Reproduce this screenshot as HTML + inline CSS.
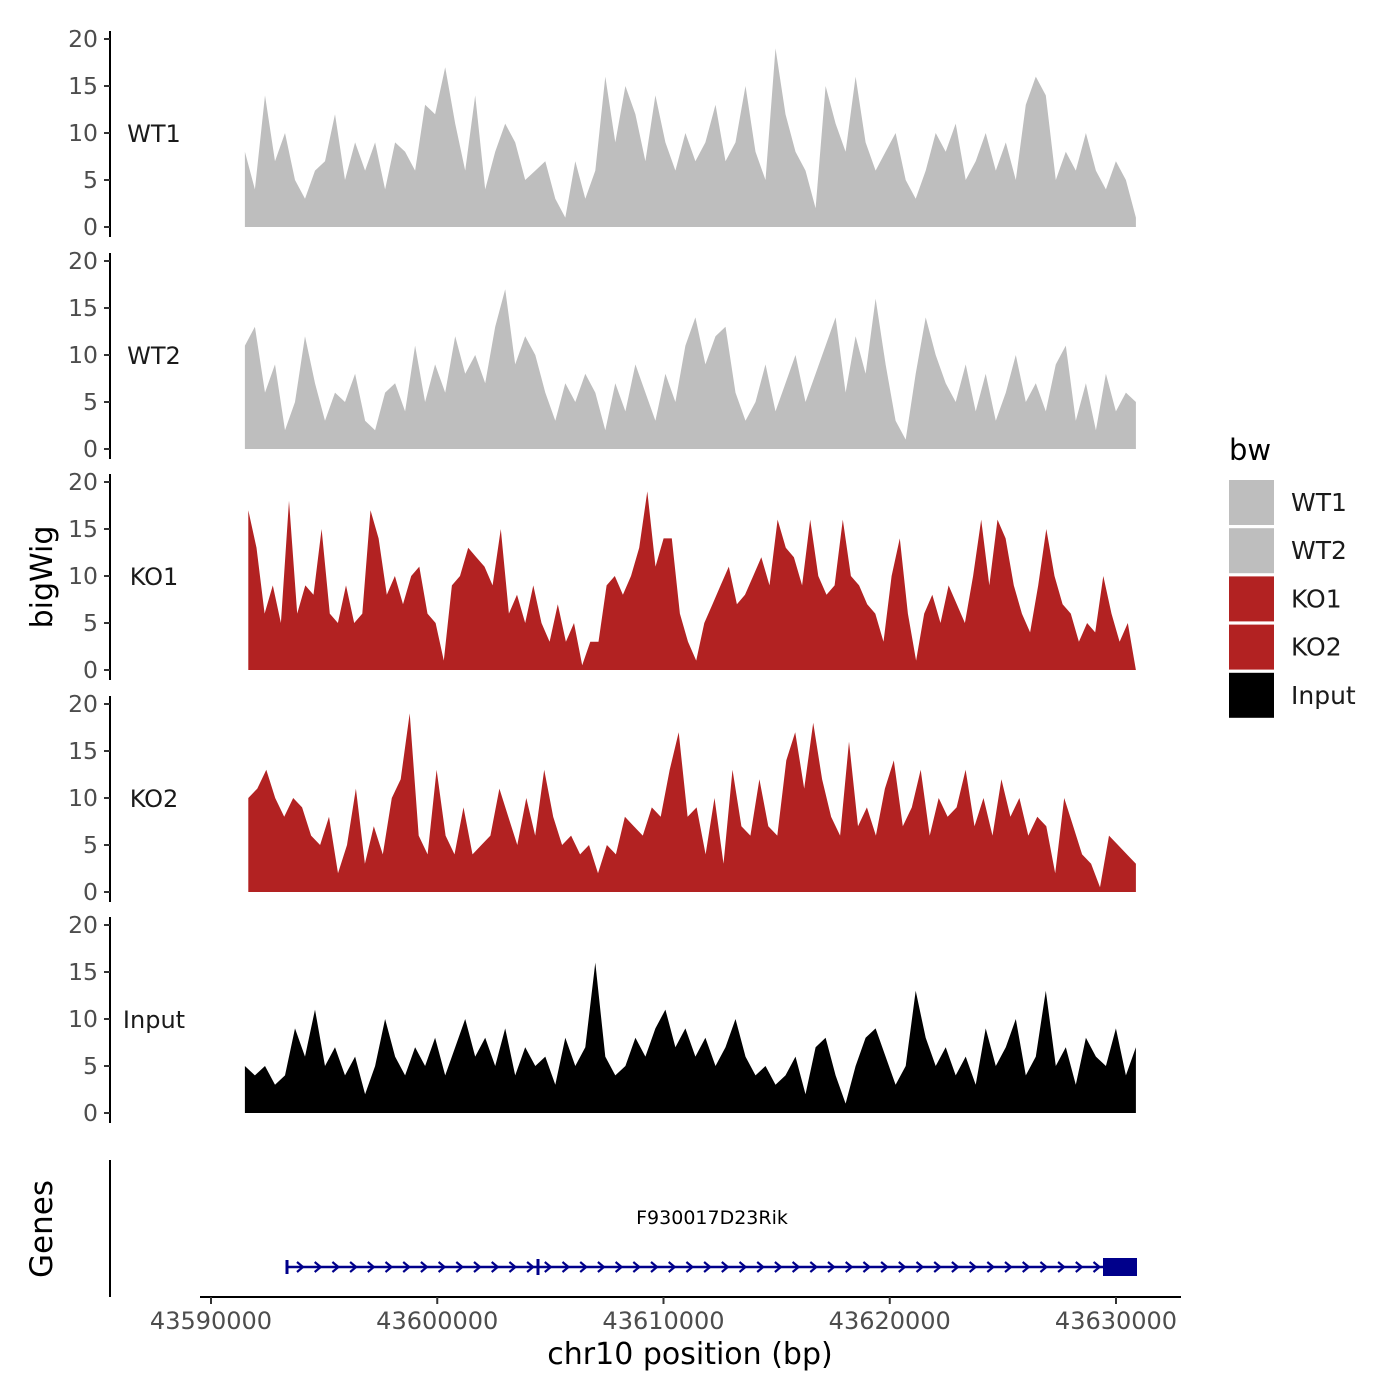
<!DOCTYPE html>
<html><head><meta charset="utf-8"><style>
html,body{margin:0;padding:0;background:#fff;}
svg{display:block;font-family:"DejaVu Sans","Liberation Sans",sans-serif;}
</style></head><body>
<svg id="chart" width="1400" height="1400" viewBox="0 0 1400 1400">
<g id="panels"></g>
<g id="genes">
  <line x1="110" y1="1160" x2="110" y2="1297" stroke="#000" stroke-width="2"/>
  <text x="52" y="1229" font-size="31" transform="rotate(-90 52 1229)" text-anchor="middle">Genes</text>
  <text x="712" y="1224" font-size="19" text-anchor="middle">F930017D23Rik</text>
  <g id="genemodel"></g>
</g>
<g id="xaxis">
  <line x1="200" y1="1297" x2="1181" y2="1297" stroke="#000" stroke-width="2"/>
  <text x="690" y="1364" font-size="30" text-anchor="middle">chr10 position (bp)</text>
</g>
<text x="52" y="577" font-size="30" transform="rotate(-90 52 577)" text-anchor="middle">bigWig</text>
<g id="legend">
  <text x="1229" y="460" font-size="29">bw</text>
</g>
</svg>
<script>
const samples = ["WT1","WT2","KO1","KO2","Input"];
const colors = ["#bebebe","#bebebe","#b22222","#b22222","#000000"];
const startBp = [43591500,43591500,43591650,43591650,43591500];
const endBp = 43630880;
const yTicks = [0,5,10,15,20];
const xTicks = [43590000,43600000,43610000,43620000,43630000];
const wt1 = [8,4,14,7,10,5,3,6,7,12,5,9,6,9,4,9,8,6,13,12,17,11,6,14,4,8,11,9,5,6,7,3,1,7,3,6,16,9,15,12,7,14,9,6,10,7,9,13,7,9,15,8,5,19,12,8,6,2,15,11,8,16,9,6,8,10,5,3,6,10,8,11,5,7,10,6,9,5,13,16,14,5,8,6,10,6,4,7,5,1];
const wt2 = [11,13,6,9,2,5,12,7,3,6,5,8,3,2,6,7,4,11,5,9,6,12,8,10,7,13,17,9,12,10,6,3,7,5,8,6,2,7,4,9,6,3,8,5,11,14,9,12,13,6,3,5,9,4,7,10,5,8,11,14,6,12,8,16,9,3,1,8,14,10,7,5,9,4,8,3,6,10,5,7,4,9,11,3,7,2,8,4,6,5];
const ko1 = [17,13,6,9,5,18,6,9,8,15,6,5,9,5,6,17,14,8,10,7,10,11,6,5,1,9,10,13,12,11,9,15,6,8,5,9,5,3,7,3,5,0.5,3,3,9,10,8,10,13,19,11,14,14,6,3,1,5,7,9,11,7,8,10,12,9,16,13,12,9,16,10,8,9,16,10,9,7,6,3,10,14,6,1,6,8,5,9,7,5,10,16,9,16,14,9,6,4,9,15,10,7,6,3,5,4,10,6,3,5,0];
const ko2 = [10,11,13,10,8,10,9,6,5,8,2,5,11,3,7,4,10,12,19,6,4,13,6,4,9,4,5,6,11,8,5,10,6,13,8,5,6,4,5,2,5,4,8,7,6,9,8,13,17,8,9,4,10,3,13,7,6,12,7,6,14,17,11,18,12,8,6,16,7,9,6,11,14,7,9,13,6,10,8,9,13,7,10,6,12,8,10,6,8,7,2,10,7,4,3,0.5,6,5,4,3];
const inp = [5,4,5,3,4,9,6,11,5,7,4,6,2,5,10,6,4,7,5,8,4,7,10,6,8,5,9,4,7,5,6,3,8,5,7,16,6,4,5,8,6,9,11,7,9,6,8,5,7,10,6,4,5,3,4,6,2,7,8,4,1,5,8,9,6,3,5,13,8,5,7,4,6,3,9,5,7,10,4,6,13,5,7,3,8,6,5,9,4,7];
const series = [wt1,wt2,ko1,ko2,inp];
const bases = [227,449,670,892,1113];

const NS = "http://www.w3.org/2000/svg";
function xs(bp){ return 211 + (bp-43590000)*905/40000; }
function ys(v,base){ return base - v*9.4; }
function mk(tag, attrs, parent){ const e=document.createElementNS(NS,tag); for(const k in attrs) e.setAttribute(k,attrs[k]); parent.appendChild(e); return e; }

const panels = document.getElementById("panels");
samples.forEach((s,p)=>{
  const g = mk("g",{},panels);
  
  
  const base = bases[p];
  const vals = series[p];
  const n = vals.length;
  const st = startBp[p];
  let d = "M"+xs(st).toFixed(1)+","+base;
  vals.forEach((v,i)=>{ const bp = st + i*(endBp-st)/(n-1); d += " L"+xs(bp).toFixed(1)+","+ys(v,base).toFixed(1); });
  d += " L"+xs(endBp).toFixed(1)+","+base+" Z";
  const area = mk("path",{d:d,fill:colors[p]},g);
  
  
  mk("line",{x1:110,y1:ys(20,base)-8,x2:110,y2:base+10,stroke:"#000","stroke-width":2},g);
  yTicks.forEach(t=>{
    const y = ys(t,base);
    mk("line",{x1:104,y1:y,x2:110,y2:y,stroke:"#333","stroke-width":2},g);
    const tx = mk("text",{x:98,y:y+8,"font-size":23.5,"text-anchor":"end",fill:"#4d4d4d"},g);
    tx.textContent = t;
    
    
  });
  const lab = mk("text",{x:154,y:ys(10,base)+9,"font-size":24,"text-anchor":"middle",fill:"#1a1a1a"},g);
  lab.textContent = s;
  
  
});

const xa = document.getElementById("xaxis");
xTicks.forEach(t=>{
  const x = xs(t);
  mk("line",{x1:x,y1:1297,x2:x,y2:1304,stroke:"#333","stroke-width":2},xa);
  const tx = mk("text",{x:x,y:1329,"font-size":24,"text-anchor":"middle",fill:"#4d4d4d"},xa);
  tx.textContent = t;
  
  
});

const gm = document.getElementById("genemodel");
const gy = 1267, gStart = 287, gEnd = 1137;
mk("line",{x1:gStart,y1:gy,x2:gEnd,y2:gy,stroke:"#00008b","stroke-width":2.5},gm);
for(let x=300; x<1098; x+=17.7){
  mk("polyline",{points:(x-3)+","+(gy-5)+" "+(x+3)+","+gy+" "+(x-3)+","+(gy+5),fill:"none",stroke:"#00008b","stroke-width":2.2},gm);
}
mk("line",{x1:gStart,y1:gy-7,x2:gStart,y2:gy+7,stroke:"#00008b","stroke-width":3},gm);
mk("line",{x1:538,y1:gy-8,x2:538,y2:gy+8,stroke:"#00008b","stroke-width":3},gm);
const box = mk("rect",{x:1103,y:gy-9,width:34,height:18,fill:"#00008b"},gm);



const lg = document.getElementById("legend");
const legFill = ["#bebebe","#bebebe","#b22222","#b22222","#000000"];
samples.forEach((s,i)=>{
  const y = 480 + i*48.2;
  const r = mk("rect",{x:1229,y:y,width:45,height:45,fill:legFill[i]},lg);
  
  
  const t = mk("text",{x:1291,y:y+31,"font-size":25,fill:"#1a1a1a"},lg);
  t.textContent = s;
  
  
});
</script>
</body></html>
